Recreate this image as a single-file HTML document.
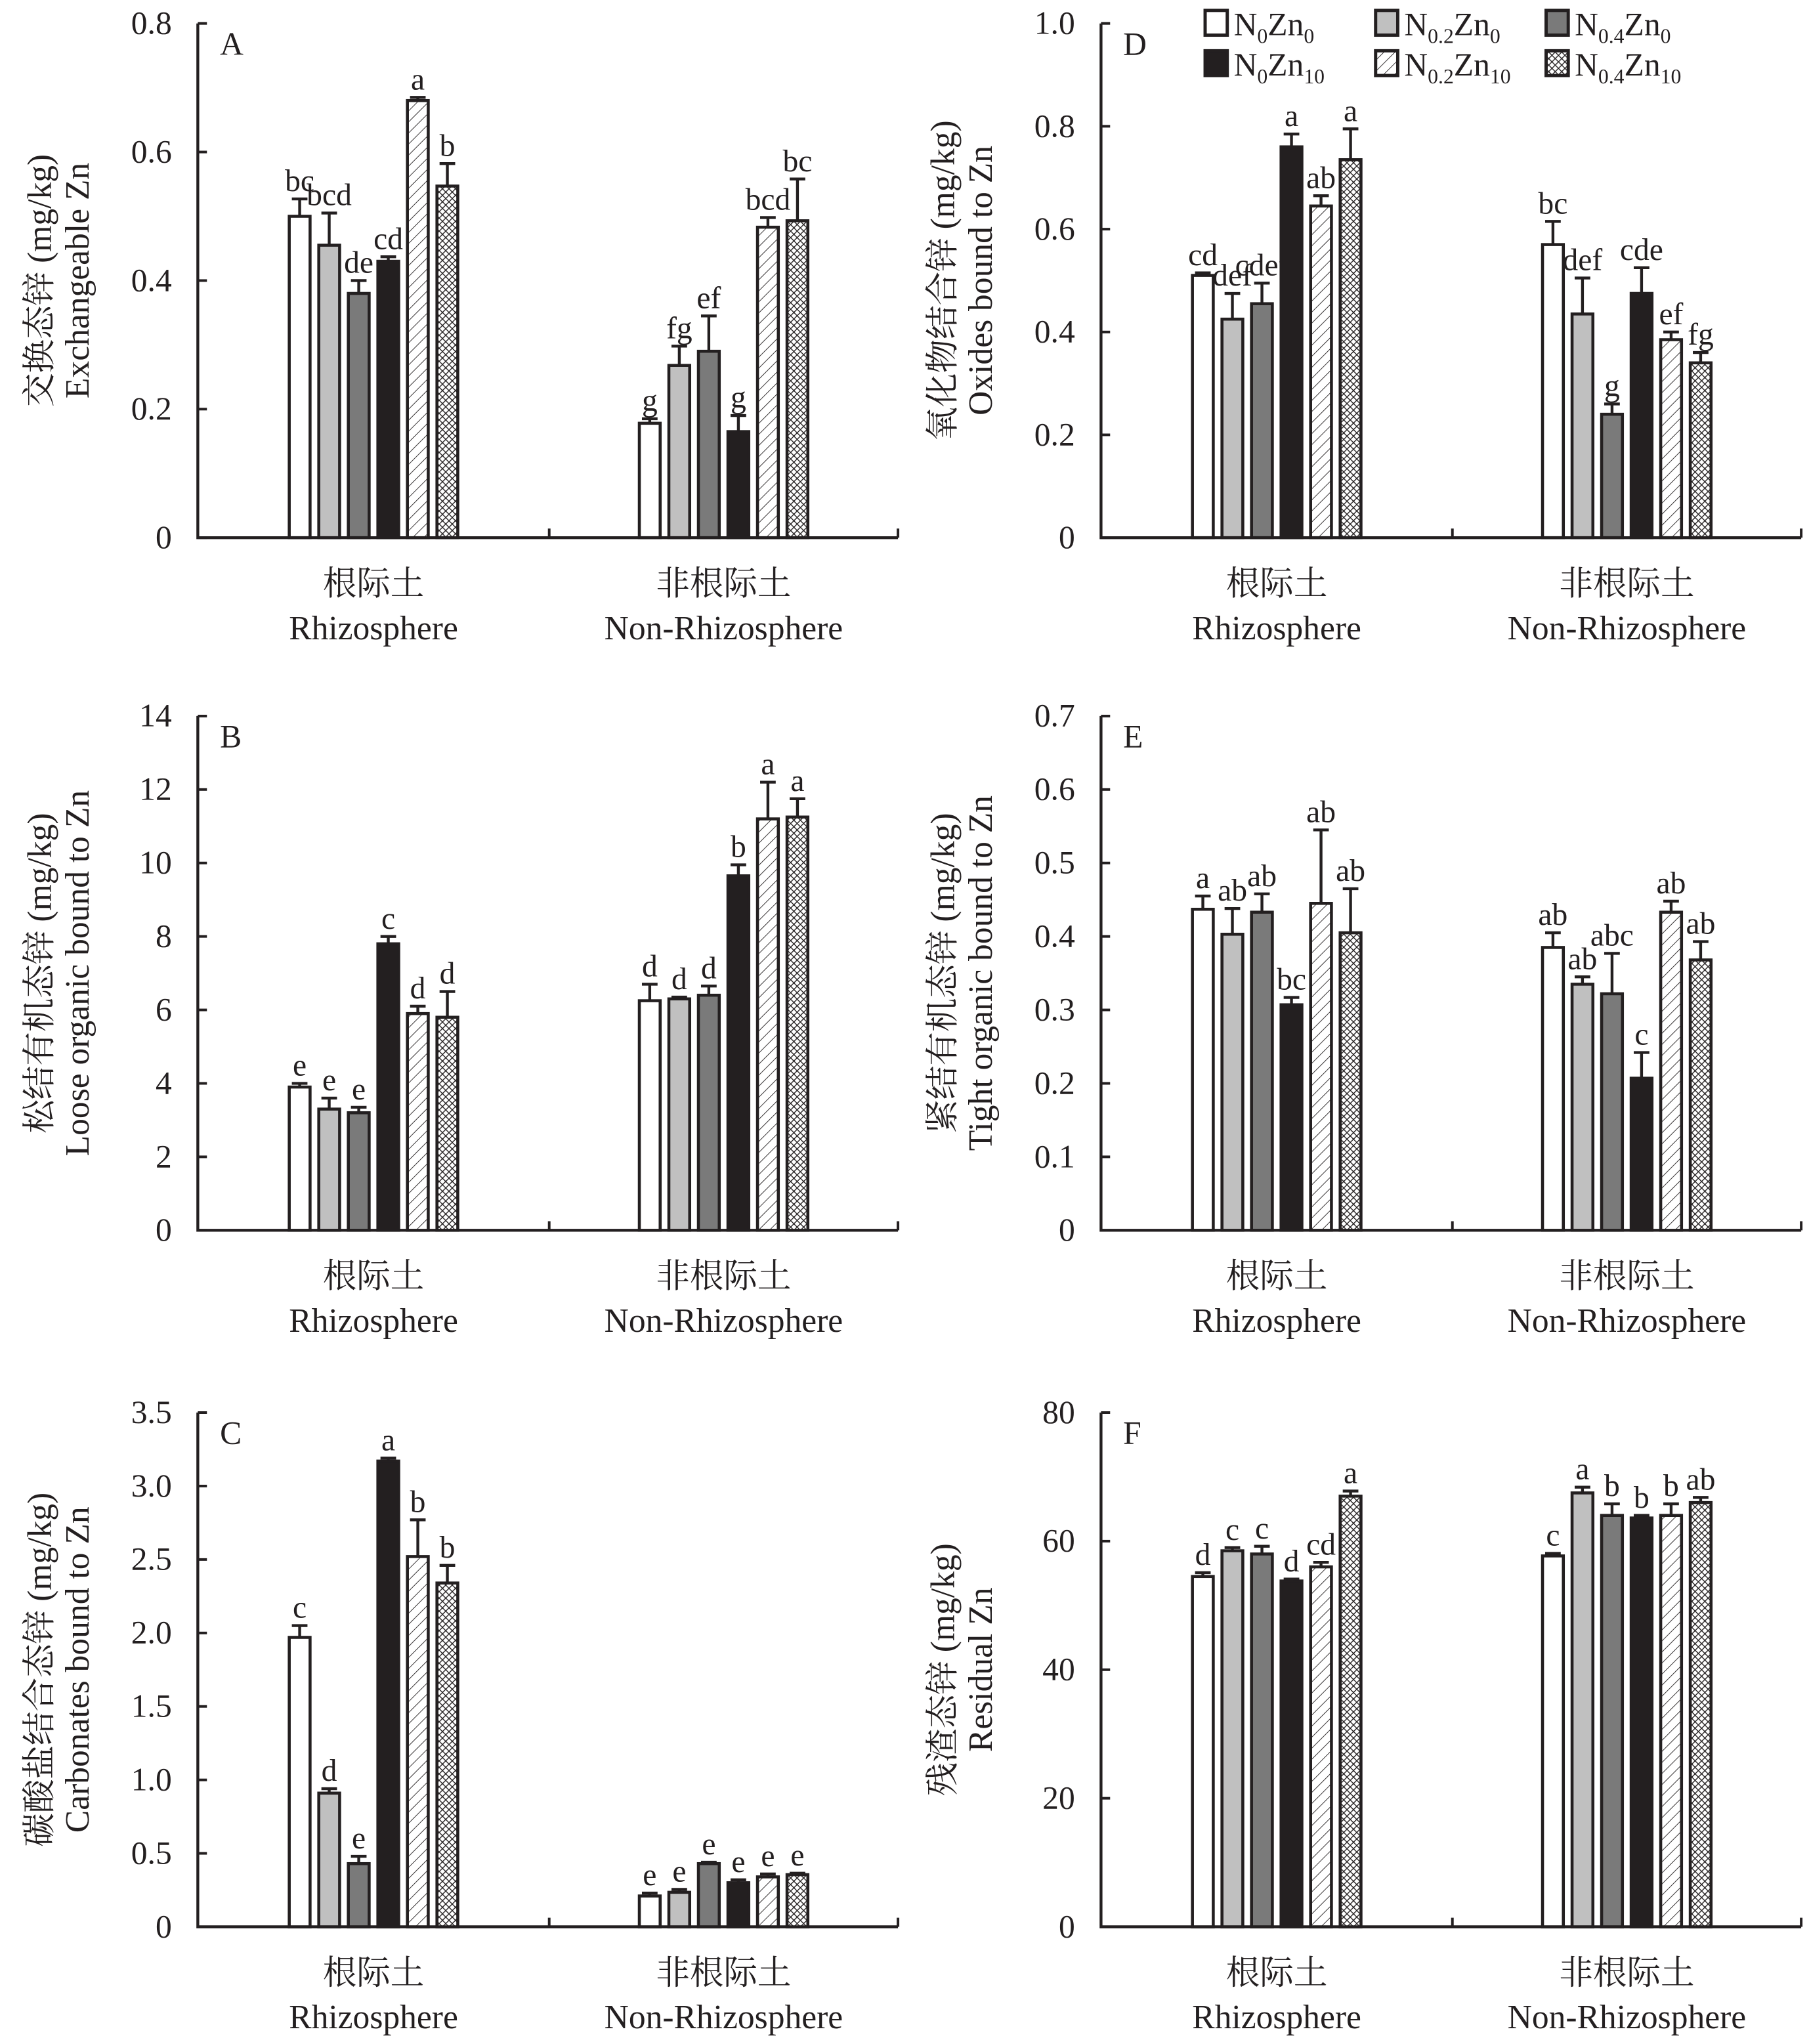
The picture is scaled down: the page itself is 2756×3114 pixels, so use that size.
<!DOCTYPE html>
<html><head><meta charset="utf-8"><style>
html,body{margin:0;padding:0;background:#fff;}
svg{display:block;}
svg text{font-family:"Liberation Serif","Noto Serif CJK SC",serif;fill:#231f20;}
</style></head><body>
<svg id="chart" width="2756" height="3114" viewBox="0 0 1390 1570" preserveAspectRatio="none" xmlns="http://www.w3.org/2000/svg" font-family="Liberation Serif, Noto Serif CJK SC, serif">
<defs>
<pattern id="diag" patternUnits="userSpaceOnUse" width="6" height="6" patternTransform="rotate(45)"><rect width="6" height="6" fill="#fff"/><line x1="0" y1="0" x2="0" y2="6" stroke="#231f20" stroke-width="0.9"/></pattern>
<pattern id="cross" patternUnits="userSpaceOnUse" width="5" height="5"><rect width="5" height="5" fill="#fff"/><path d="M0 0L5 5M5 0L0 5" stroke="#231f20" stroke-width="0.7"/></pattern>
</defs>
<g id="root"></g>
</svg>
<script>
// ---- data ----
const categories = ["根际土|Rhizosphere", "非根际土|Non-Rhizosphere"];
const seriesNames = ["N0Zn0","N0.2Zn0","N0.4Zn0","N0Zn10","N0.2Zn10","N0.4Zn10"];
const valuesA = [[0.50,0.455,0.38,0.43,0.68,0.547],[0.178,0.268,0.29,0.165,0.483,0.493]];
const errorsA = [[0.027,0.05,0.02,0.007,0.005,0.035],[0.007,0.03,0.055,0.025,0.015,0.065]];
const lettersA = [["bc","bcd","de","cd","a","b"],["g","fg","ef","g","bcd","bc"]];
const ticksA = ["0","0.2","0.4","0.6","0.8"];
const valuesB = [[3.9,3.3,3.2,7.8,5.9,5.8],[6.25,6.3,6.4,9.65,11.2,11.25]];
const errorsB = [[0.1,0.3,0.15,0.2,0.2,0.7],[0.45,0.05,0.25,0.3,1.0,0.5]];
const lettersB = [["e","e","e","c","d","d"],["d","d","d","b","a","a"]];
const ticksB = ["0","2","4","6","8","10","12","14"];
const valuesC = [[1.97,0.91,0.43,3.17,2.52,2.34],[0.21,0.235,0.43,0.30,0.34,0.355]];
const errorsC = [[0.08,0.03,0.05,0.02,0.25,0.12],[0.02,0.02,0.01,0.02,0.02,0.01]];
const lettersC = [["c","d","e","a","b","b"],["e","e","e","e","e","e"]];
const ticksC = ["0","0.5","1.0","1.5","2.0","2.5","3.0","3.5"];
const valuesD = [[0.51,0.425,0.455,0.76,0.645,0.735],[0.57,0.435,0.24,0.475,0.385,0.34]];
const errorsD = [[0.005,0.05,0.04,0.025,0.02,0.06],[0.045,0.07,0.02,0.05,0.015,0.02]];
const lettersD = [["cd","def","cdef","a","ab","a"],["bc","def","g","cde","ef","fg"]];
const ticksD = ["0","0.2","0.4","0.6","0.8","1.0"];
const valuesE = [[0.437,0.403,0.433,0.307,0.445,0.405],[0.385,0.335,0.322,0.207,0.433,0.368]];
const errorsE = [[0.018,0.035,0.025,0.01,0.1,0.06],[0.02,0.01,0.055,0.035,0.015,0.025]];
const lettersE = [["a","ab","ab","bc","ab","ab"],["ab","ab","abc","c","ab","ab"]];
const ticksE = ["0","0.1","0.2","0.3","0.4","0.5","0.6","0.7"];
const valuesF = [[54.5,58.5,58,53.8,56,67],[57.7,67.5,64,63.6,64,66]];
const errorsF = [[0.6,0.5,1.2,0.3,0.7,0.8],[0.4,0.9,1.8,0.4,1.8,0.8]];
const lettersF = [["d","c","c","d","cd","a"],["c","a","b","b","b","ab"]];
const ticksF = ["0","20","40","60","80"];

const fills = ["#fff","#c0c0c0","#7a7a7a","#231f20","url(#diag)","url(#cross)"];
const NS = "http://www.w3.org/2000/svg";
const root = document.getElementById("root");
function mk(tag, attrs, parent, txt){
  const e = document.createElementNS(NS, tag);
  for (const k in attrs) e.setAttribute(k, attrs[k]);
  if (txt !== undefined) e.textContent = txt;
  (parent||root).appendChild(e); return e;
}

function panel(cfg){
  const g = mk("g", {});
  
  
  const x0 = cfg.x0, x1 = cfg.x0 + 538, y0 = cfg.y0, yTop = y0 - 395;
  const maxV = parseFloat(cfg.ticks[cfg.ticks.length-1]);
  const yS = v => y0 - v / maxV * (y0 - yTop);
  const ax = mk("path", {d:`M${x0} ${yTop}V${y0}H${x1}`, fill:"none", stroke:"#231f20", "stroke-width":2.2}, g);
  
  
  mk("path", {d:`M${x0+270} ${y0}v-7M${x1} ${y0}v-7`, stroke:"#231f20", "stroke-width":2}, g);
  cfg.ticks.forEach((t,i)=>{
    const v = parseFloat(t), y = yS(v);
    mk("line", {x1:x0, x2:x0+7, y1:y, y2:y, stroke:"#231f20", "stroke-width":2}, g);
    const tl = mk("text", {x:x0-20, y:y+8, "text-anchor":"end", "font-size":25}, g, t);
    
    
  });
  const pl = mk("text", {x:x0+17, y:yTop+24, "font-size":25}, g, cfg.letter);
  
  
  const cy = (y0 + yTop)/2;
  const yl1 = mk("text", {transform:`translate(${x0-113},${cy}) rotate(-90)`, "text-anchor":"middle", "font-size":26}, g, cfg.ylab1);
  
  
  const yl2 = mk("text", {transform:`translate(${x0-84},${cy}) rotate(-90)`, "text-anchor":"middle", "font-size":26}, g, cfg.ylab2);
  
  
  categories.forEach((c, gi)=>{
    const gc = x0 + 135 + gi*269;
    const [cn, en] = c.split("|");
    const c1 = mk("text", {x:gc, y:y0+44, "text-anchor":"middle", "font-size":26}, g, cn);
    
    
    const c2 = mk("text", {x:gc, y:y0+78, "text-anchor":"middle", "font-size":26}, g, en);
    
    
    cfg.vals[gi].forEach((v, si)=>{
      const cx = gc + (si - 2.5)*22.7, w = 16;
      const yt = yS(v), ye = yS(v + cfg.errs[gi][si]);
      const b = mk("rect", {x:cx-w/2, y:yt, width:w, height:y0-yt, fill:fills[si], stroke:"#231f20", "stroke-width":2.3}, g);
      
      
      mk("path", {d:`M${cx} ${yt}V${ye}M${cx-6} ${ye}H${cx+6}`, stroke:"#231f20", "stroke-width":2.2, fill:"none"}, g);
      const lt = mk("text", {x:cx, y:ye-6, "text-anchor":"middle", "font-size":24}, g, cfg.lets[gi][si]);
      
      
    });
  });
}
panel({letter:"A", x0:152, y0:413, ticks:ticksA, vals:valuesA, errs:errorsA, lets:lettersA, ylab1:"交换态锌 (mg/kg)", ylab2:"Exchangeable Zn"});
panel({letter:"B", x0:152, y0:945, ticks:ticksB, vals:valuesB, errs:errorsB, lets:lettersB, ylab1:"松结有机态锌 (mg/kg)", ylab2:"Loose organic bound to Zn"});
panel({letter:"C", x0:152, y0:1480, ticks:ticksC, vals:valuesC, errs:errorsC, lets:lettersC, ylab1:"碳酸盐结合态锌 (mg/kg)", ylab2:"Carbonates bound to Zn"});
panel({letter:"D", x0:846, y0:413, ticks:ticksD, vals:valuesD, errs:errorsD, lets:lettersD, ylab1:"氧化物结合锌 (mg/kg)", ylab2:"Oxides bound to Zn"});
panel({letter:"E", x0:846, y0:945, ticks:ticksE, vals:valuesE, errs:errorsE, lets:lettersE, ylab1:"紧结有机态锌 (mg/kg)", ylab2:"Tight organic bound to Zn"});
panel({letter:"F", x0:846, y0:1480, ticks:ticksF, vals:valuesF, errs:errorsF, lets:lettersF, ylab1:"残渣态锌 (mg/kg)", ylab2:"Residual Zn"});

const lg = mk("g", {});


const legN = ["0","0.2","0.4","0","0.2","0.4"];
const legZ = ["0","0","0","10","10","10"];
seriesNames.forEach((s, i)=>{
  const lx = 926 + (i%3)*131, ly = 8 + Math.floor(i/3)*31;
  const e = mk("g", {}, lg);
  
  
  mk("rect", {x:lx, y:ly, width:17, height:19, fill:fills[i], stroke:"#231f20", "stroke-width":2.5}, e);
  const t = mk("text", {x:lx+22, y:ly+19, "font-size":25}, e);
  mk("tspan", {}, t, "N");
  mk("tspan", {"font-size":16, dy:6}, t, legN[i]);
  mk("tspan", {dy:-6}, t, "Zn");
  mk("tspan", {"font-size":16, dy:6}, t, legZ[i]);
});
</script>
</body></html>
